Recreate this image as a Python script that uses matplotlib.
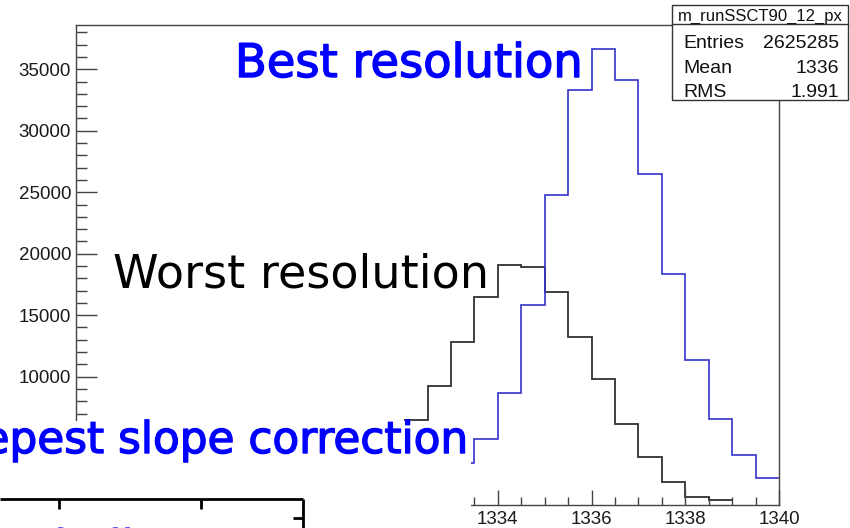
import numpy as np
import matplotlib
matplotlib.use("Agg")
import matplotlib.pyplot as plt
from matplotlib.patches import Rectangle
from matplotlib.lines import Line2D
from matplotlib.ticker import MultipleLocator, FuncFormatter
import matplotlib.patheffects as pe

# ---------------- data ----------------
bin_width = 0.5
# "Worst resolution" histogram (black), first visible bin starts at 1332.0
black_start = 1332.0
black_counts = [6500, 9200, 12800, 16450, 19050, 18900, 16850, 13250,
                9800, 6150, 3450, 1400, 200, 0]
# "Best resolution" histogram (blue), first visible bin starts at 1333.0
blue_start = 1333.0
blue_counts = [2950, 4950, 8650, 15850, 24750, 33300, 36650, 34100,
               26500, 18350, 11350, 6550, 3650, 1750]

x_range = (1325, 1340)
y_range = (-400, 38600)

stats_title = "m_runSSCT90_12_px"
stats_labels = ["Entries", "Mean", "RMS"]
stats_values = ["2625285", "1336", "1.991"]

label_best = "Best resolution"
label_worst = "Worst resolution"
label_steep = "Steepest slope correction"
label_shallow = "Shallowest slope correction"

# ---------------- figure ----------------
W, H = 850, 528
fig = plt.figure(figsize=(W / 100, H / 100), dpi=100)
fig.patch.set_facecolor("white")

def fx(px):
    return px / W

def fy(py):
    return 1 - py / H

ax_left, ax_right, ax_top, ax_bottom = 76, 779, 25, 504.5
ax = fig.add_axes([fx(ax_left), fy(ax_bottom), fx(ax_right - ax_left), (ax_bottom - ax_top) / H])

black_edges = black_start + bin_width * np.arange(len(black_counts) + 1)
blue_edges = blue_start + bin_width * np.arange(len(blue_counts) + 1)

ax.stairs(black_counts, black_edges, baseline=None, color="#303030", lw=1.3)
ax.stairs(blue_counts, blue_edges, baseline=None, color="#3333cc", lw=1.2)

ax.set_xlim(*x_range)
ax.set_ylim(*y_range)

axis_col = "#444444"
for s in ax.spines.values():
    s.set_color(axis_col)
    s.set_linewidth(1.0)

ax.xaxis.set_major_locator(MultipleLocator(2))
ax.xaxis.set_minor_locator(MultipleLocator(0.5))
ax.yaxis.set_major_locator(MultipleLocator(5000))
ax.yaxis.set_minor_locator(MultipleLocator(1000))

tick_family = ["Liberation Sans", "DejaVu Sans"]
ax.tick_params(axis="both", which="both", direction="in", color=axis_col, width=1.0,
               top=False, right=False, labelcolor="#1a1a1a")
ax.tick_params(axis="y", which="major", length=15, pad=3.6)
ax.tick_params(axis="y", which="minor", length=8)
ax.tick_params(axis="x", which="major", length=10.8, pad=5.0)
ax.tick_params(axis="x", which="minor", length=5.8)
ax.xaxis.set_major_formatter(FuncFormatter(lambda v, p: f"{v:.0f}"))
ax.yaxis.set_major_formatter(FuncFormatter(lambda v, p: f"{v:.0f}"))
for lab in ax.get_xticklabels() + ax.get_yticklabels():
    lab.set_fontfamily(tick_family)
    lab.set_fontsize(13.5)

# ---------------- overlay: white area covering lower-left ----------------
fig.add_artist(Rectangle((0, 0), fx(470.5), (H - 420.5) / H,
                         transform=fig.transFigure, facecolor="white",
                         edgecolor="none", zorder=5))

# ---------------- lower-left inset (clipping region for its text) ----------------
inset_top, inset_bot = 500.5, 528
inset = fig.add_axes([0, fy(inset_bot), fx(302), (inset_bot - inset_top) / H], zorder=6)
inset.set_axis_off()
inset.set_xlim(0, 302)
inset.set_ylim(inset_bot, inset_top)
inset.text(27, 527.3, label_shallow, ha="left", va="top", fontsize=31.5,
           family="DejaVu Sans", color="#0000ff", clip_on=True,
           path_effects=[pe.withStroke(linewidth=1.0, foreground="#0000ff")])

# ---------------- stats box ----------------
bx0, bx1, by0, by1, bhdr = 672, 848, 5, 100, 24
fig.add_artist(Rectangle((fx(bx0), fy(by1)), fx(bx1 - bx0), (by1 - by0) / H,
                         transform=fig.transFigure, facecolor="white",
                         edgecolor="#333333", lw=1.0, zorder=6))
fig.add_artist(Line2D([fx(bx0), fx(bx1)], [fy(bhdr), fy(bhdr)], color="#333333",
                      lw=1.0, transform=fig.transFigure, zorder=7))
sfam = ["Liberation Sans", "DejaVu Sans"]
fig.text(fx((bx0 + bx1) / 2), fy(20.5), stats_title, ha="center", va="baseline",
         fontsize=12, family=sfam, color="#111111", zorder=8)
for i, (lab, val) in enumerate(zip(stats_labels, stats_values)):
    base = 48.5 + i * 24.3
    fig.text(fx(683), fy(base), lab, ha="left", va="baseline", fontsize=14,
             family=sfam, color="#111111", zorder=8)
    fig.text(fx(839), fy(base), val, ha="right", va="baseline", fontsize=14,
             family=sfam, color="#111111", zorder=8)

# ---------------- annotation texts ----------------
bold_fx = [pe.withStroke(linewidth=1.0, foreground="#0000ff")]
fig.text(fx(235), fy(77), label_best, ha="left", va="baseline", fontsize=33.4,
         family="DejaVu Sans", color="#0000ff", path_effects=bold_fx, zorder=8)
fig.text(fx(113), fy(287), label_worst, ha="left", va="baseline", fontsize=33.2,
         family="DejaVu Sans", color="black", zorder=8)
fig.text(fx(468), fy(453), label_steep, ha="right", va="baseline", fontsize=31.5,
         family="DejaVu Sans", color="#0000ff", path_effects=bold_fx, zorder=8)

# ---------------- lower-left inset frame fragment ----------------
frame_kw = dict(color="black", lw=2.0, transform=fig.transFigure, zorder=7,
                solid_capstyle="butt")
fig.add_artist(Line2D([fx(0), fx(303)], [fy(499.3), fy(499.3)], **frame_kw))
fig.add_artist(Line2D([fx(303), fx(303)], [fy(499.3), fy(528)], **frame_kw))
for tx in (59, 201):
    fig.add_artist(Line2D([fx(tx), fx(tx)], [fy(499.3), fy(509)], **frame_kw))
fig.add_artist(Line2D([fx(293), fx(303)], [fy(518), fy(518)], **frame_kw))

fig.savefig("out.png", dpi=100, facecolor="white")
